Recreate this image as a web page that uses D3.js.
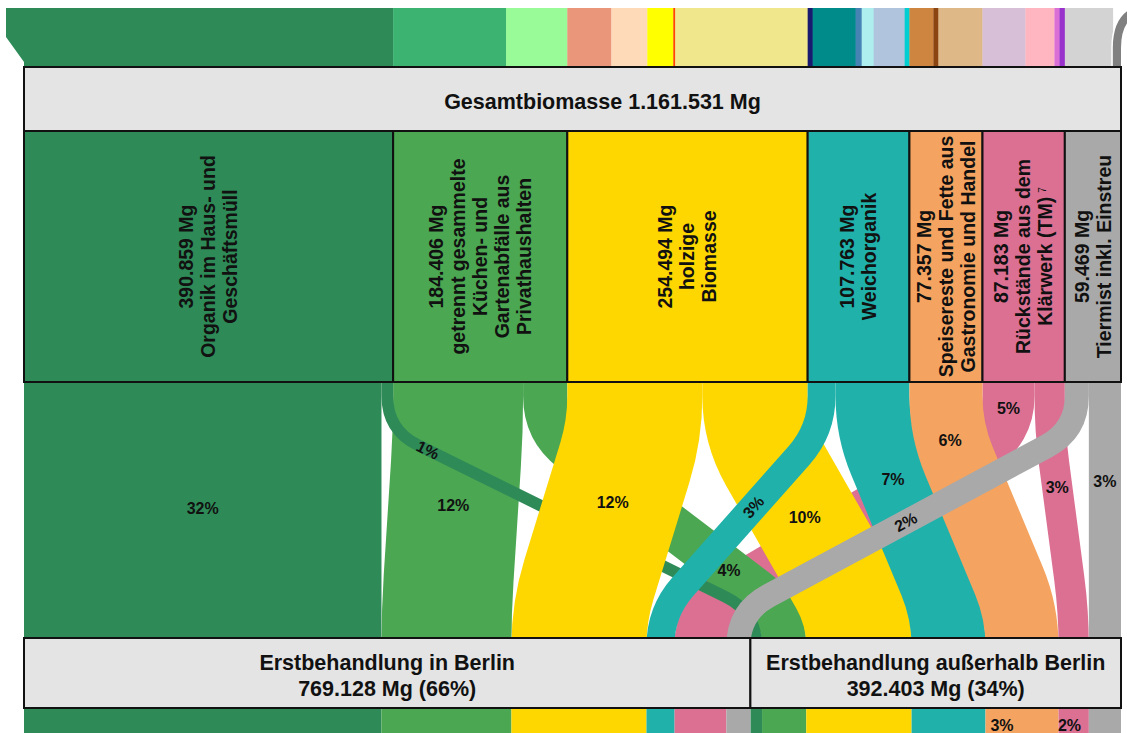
<!DOCTYPE html>
<html>
<head>
<meta charset="utf-8">
<script src="https://cdn.jsdelivr.net/npm/d3@7"></script>
<style>
  body { margin: 0; background: #ffffff; }
  #chart svg { display: block; font-family: "Liberation Sans", Arial, sans-serif; }
  #chart .box { fill: #e4e4e4; stroke: #111111; stroke-width: 2; }
  #chart .src-box { stroke: #111111; stroke-width: 2; }
  #chart .link { fill: none; stroke-linecap: butt; }
  #chart .box-text { font-weight: 700; fill: #111111; }
  #chart .pct { font-size: 16px; font-weight: 700; fill: #111111; }
</style>
</head>
<body>
<div id="chart"></div>
<script>
/* ── data ─────────────────────────────────────────────── */
const sources = [
  "Organik im Haus- und Geschäftsmüll",
  "getrennt gesammelte Küchen- und Gartenabfälle aus Privathaushalten",
  "holzige Biomasse",
  "Weichorganik",
  "Speisereste und Fette aus Gastronomie und Handel",
  "Rückstände aus dem Klärwerk (TM)",
  "Tiermist inkl. Einstreu"
];
const sourceLines = [
  ["Organik im Haus- und", "Geschäftsmüll"],
  ["getrennt gesammelte", "Küchen- und", "Gartenabfälle aus", "Privathaushalten"],
  ["holzige", "Biomasse"],
  ["Weichorganik"],
  ["Speisereste und Fette aus", "Gastronomie und Handel"],
  ["Rückstände aus dem", "Klärwerk (TM)"],
  ["Tiermist inkl. Einstreu"]
];
const sourceValues = [390859, 184406, 254494, 107763, 77357, 87183, 59469];

const targets = ["Erstbehandlung in Berlin", "Erstbehandlung außerhalb Berlin"];
const toBerlin  = [378500, 137600, 143000, 29500, 0, 55100, 25428];
const toOutside = [12359, 46806, 111494, 78263, 77357, 32083, 34041];
const flowLabels = [["32%", "1%"], ["12%", "4%"], ["12%", "10%"], ["3%", "7%"], [null, "6%"], ["5%", "3%"], ["2%", "3%"]];

// what flows into each source (top strip)
const inputValues = [
  [390859],
  [119600, 64806],
  [46600, 38100, 27500, 2100, 140194],
  [5300, 45500, 6400, 12700, 32800, 5063],
  [25400, 5300, 46657],
  [45500, 30700, 5300, 5683],
  [50800, 8669]
];

// next stage below the target boxes (share of total, label)
const nextStage = [
  { source: 4, share: 0.03, text: "3%" },
  { source: 5, share: 0.02, text: "2%" }
];

/* ── styles / layout ──────────────────────────────────── */
const sourceColors = ["#2e8b57", "#4ba752", "#ffd700", "#20b2aa", "#f4a460", "#db7093", "#a9a9a9"];
const inputColors = [
  ["#2e8b57"],
  ["#3cb371", "#98fb98"],
  ["#e9967a", "#ffdab9", "#ffff00", "#ff4500", "#f0e68c"],
  ["#191970", "#008b8b", "#4682b4", "#afeeee", "#b0c4de", "#00ced1"],
  ["#cd853f", "#8b4513", "#deb887"],
  ["#d8bfd8", "#ffb6c1", "#da70d6", "#9932cc"],
  ["#d3d3d3", "#808080"]
];
// y of each percent label on its link
const labelY = [[508, 450], [505, 570], [502, 517], [507, 479], [null, 440], [408, 487], [522, 481]];
// stacking order of the links, bottom first
const drawOrder = [[5, 0], [1, 1], [0, 0], [1, 0], [0, 1], [2, 0], [2, 1], [3, 0], [3, 1], [4, 1], [5, 1], [6, 1], [6, 0]];

const W = 1127, H = 733;
const Y = { strip: 8, total: 67, src: 131, srcBot: 382, bendTop: 430, bendBot: 612, tgt: 638, tgtBot: 708, end: 745 };
const R = 34;

const de = d3.formatLocale({ decimal: ",", thousands: ".", grouping: [3], currency: ["", "€"] });
const fmt = de.format(",d");

const total = d3.sum(sourceValues);
const x = d3.scaleLinear().domain([0, total]).range([24, 1121]);
const w = v => x(v) - x(0);

const svg = d3.select("#chart").append("svg")
  .attr("width", W).attr("height", H)
  .attr("viewBox", `0 0 ${W} ${H}`);

/* ── source positions ─────────────────────────────────── */
let acc = 0;
const srcPos = sourceValues.map(v => { const p = { v0: acc, v1: acc + v }; acc += v; return p; });

/* ── top strip: inflows ───────────────────────────────── */
const strip = svg.append("g");
inputValues.forEach((vals, i) => {
  let a = srcPos[i].v0;
  vals.forEach((v, j) => {
    if (i === 6 && j === 1) return; // drawn as a curve below
    const x0 = x(a), x1 = x(a + v);
    strip.append("rect")
      .attr("x", x0).attr("y", Y.strip)
      .attr("width", x1 - x0 + 0.3).attr("height", Y.total - Y.strip)
      .attr("fill", inputColors[i][j]);
    a += v;
  });
});
// first inflow enters from the left
strip.append("polygon")
  .attr("points", [[x(0) - 18, Y.strip], [x(0) + 1, Y.strip], [x(0) + 1, Y.total], [x(0), Y.total], [x(0), Y.total - 5], [x(0) - 18, Y.strip + 29]].join(" "))
  .attr("fill", inputColors[0][0]);
// last inflow bends away to the right
{
  const last = inputValues[6];
  const cx = x(srcPos[6].v0 + last[0] + last[1] / 2);
  const sw = w(last[1]);
  const d = `M${cx},${Y.total}V${Y.strip + 40}Q${cx},${Y.strip + 4} ${cx + 28},${Y.strip + 1}`;
  strip.append("path").attr("d", d).attr("fill", "none").attr("stroke", "#ffffff").attr("stroke-width", sw + 3);
  strip.append("path").attr("d", d).attr("fill", "none").attr("stroke", inputColors[6][1]).attr("stroke-width", sw);
}

/* ── links ────────────────────────────────────────────── */
const flows = [toBerlin, toOutside];
const links = [];
const tgtAcc = [0, d3.sum(toBerlin)];
sourceValues.forEach((v, i) => {
  let s = srcPos[i].v0;
  [0, 1].forEach(t => {
    const val = flows[t][i];
    const l = { s: i, t, value: val, sx0: x(s), sx1: x(s + val), tx0: x(tgtAcc[t]), tx1: x(tgtAcc[t] + val) };
    l.cs = (l.sx0 + l.sx1) / 2;
    l.ct = (l.tx0 + l.tx1) / 2;
    l.width = w(val);
    links.push(l);
    s += val;
    tgtAcc[t] += val;
  });
});
const linkOf = (s, t) => links.find(l => l.s === s && l.t === t);

function linkPath(l) {
  if (Math.abs(l.cs - l.ct) < 0.5) return `M${l.cs},${Y.srcBot}V${Y.end}`;
  const dx = l.ct - l.cs, dy = Y.bendBot - Y.bendTop;
  const len = Math.hypot(dx, dy), ux = dx / len, uy = dy / len;
  const r = Math.min(R, len / 2);
  return `M${l.cs},${Y.srcBot}V${Y.bendTop - r}` +
    `Q${l.cs},${Y.bendTop} ${l.cs + ux * r},${Y.bendTop + uy * r}` +
    `L${l.ct - ux * r},${Y.bendBot - uy * r}` +
    `Q${l.ct},${Y.bendBot} ${l.ct},${Y.bendBot + r}V${Y.end}`;
}
function centerAt(l, y) {
  if (y <= Y.bendTop) return l.cs;
  if (y >= Y.bendBot) return l.ct;
  return l.cs + (l.ct - l.cs) * (y - Y.bendTop) / (Y.bendBot - Y.bendTop);
}

const ordered = drawOrder.map(([s, t]) => linkOf(s, t)).filter(l => l.value > 0);
svg.append("g").selectAll("path")
  .data(ordered)
  .join("path")
    .attr("class", "link")
    .attr("d", linkPath)
    .attr("stroke", d => sourceColors[d.s])
    .attr("stroke-width", d => d.width);

/* ── percent labels ───────────────────────────────────── */
svg.append("g").selectAll("text")
  .data(links.filter(l => flowLabels[l.s][l.t]))
  .join("text")
    .attr("class", "pct")
    .attr("text-anchor", "middle")
    .attr("dy", "0.35em")
    .attr("transform", l => {
      const y = labelY[l.s][l.t];
      const cx = centerAt(l, y);
      const dx = l.ct - l.cs;
      const rot = (l.width < 35 && Math.abs(dx) > 100 && y > Y.bendTop)
        ? Math.atan((Y.bendBot - Y.bendTop) / dx) * 180 / Math.PI : 0;
      return `translate(${cx},${y}) rotate(${rot})`;
    })
    .text(l => flowLabels[l.s][l.t]);

// labels of the next stage below the target boxes
svg.append("g").selectAll("text")
  .data(nextStage)
  .join("text")
    .attr("class", "pct")
    .attr("text-anchor", "middle")
    .attr("x", d => linkOf(d.source, 1).tx0 + w(d.share * total) / 2)
    .attr("y", 725)
    .attr("dy", "0.35em")
    .text(d => d.text);

/* ── total box ────────────────────────────────────────── */
svg.append("rect").attr("class", "box")
  .attr("x", x(0)).attr("y", Y.total)
  .attr("width", w(total)).attr("height", Y.src - Y.total);
// title sits a little right of the box centre, as in the original
svg.append("text").attr("class", "box-text")
  .attr("x", (x(0) + x(total)) / 2 + 30).attr("y", (Y.total + Y.src) / 2 + 2)
  .attr("dy", "0.35em").attr("text-anchor", "middle")
  .style("font-size", "21.5px")
  .text(`Gesamtbiomasse ${fmt(total)} Mg`);

/* ── source boxes ─────────────────────────────────────── */
const srcG = svg.append("g").selectAll("g")
  .data(sourceValues.map((v, i) => ({ i, v, x0: x(srcPos[i].v0), x1: x(srcPos[i].v1) })))
  .join("g");
srcG.append("rect").attr("class", "src-box")
  .attr("x", d => d.x0).attr("y", Y.src)
  .attr("width", d => d.x1 - d.x0).attr("height", Y.srcBot - Y.src)
  .attr("fill", d => sourceColors[d.i]);
const lh = 22;
srcG.each(function (d) {
  const lines = [`${fmt(d.v)} Mg`, ...sourceLines[d.i]];
  const cx = (d.x0 + d.x1) / 2, cy = (Y.src + Y.srcBot) / 2;
  const t = d3.select(this).append("text")
    .attr("class", "box-text")
    .style("font-size", "19.5px")
    .attr("text-anchor", "middle")
    .attr("transform", `translate(${cx},${cy}) rotate(-90)`);
  lines.forEach((s, k) => {
    t.append("tspan")
      .attr("x", 0)
      .attr("y", (k - (lines.length - 1) / 2) * lh)
      .attr("dy", "0.35em")
      .text(s);
    if (d.i === 5 && k === lines.length - 1) {
      t.append("tspan").attr("dx", 4).attr("dy", "-0.6em").style("font-size", "10px").style("font-weight", 400).text("7");
    }
  });
});

/* ── target boxes ─────────────────────────────────────── */
const berlin = d3.sum(toBerlin), outside = d3.sum(toOutside);
const tgtData = [
  { name: targets[0], v: berlin, x0: x(0), x1: x(berlin) },
  { name: targets[1], v: outside, x0: x(berlin), x1: x(total) }
];
const pf = d3.format(".0%");
const tg = svg.append("g").selectAll("g").data(tgtData).join("g");
tg.append("rect").attr("class", "box")
  .attr("x", d => d.x0).attr("y", Y.tgt)
  .attr("width", d => d.x1 - d.x0).attr("height", Y.tgtBot - Y.tgt);
tg.append("text").attr("class", "box-text")
  .style("font-size", "21.5px").attr("text-anchor", "middle")
  .attr("x", d => (d.x0 + d.x1) / 2).attr("y", (Y.tgt + Y.tgtBot) / 2 - 11)
  .attr("dy", "0.35em").text(d => d.name);
tg.append("text").attr("class", "box-text")
  .style("font-size", "21.5px").attr("text-anchor", "middle")
  .attr("x", d => (d.x0 + d.x1) / 2).attr("y", (Y.tgt + Y.tgtBot) / 2 + 15)
  .attr("dy", "0.35em").text(d => `${fmt(d.v)} Mg (${pf(d.v / total).replace("%", "")}%)`);
</script>
</body>
</html>
